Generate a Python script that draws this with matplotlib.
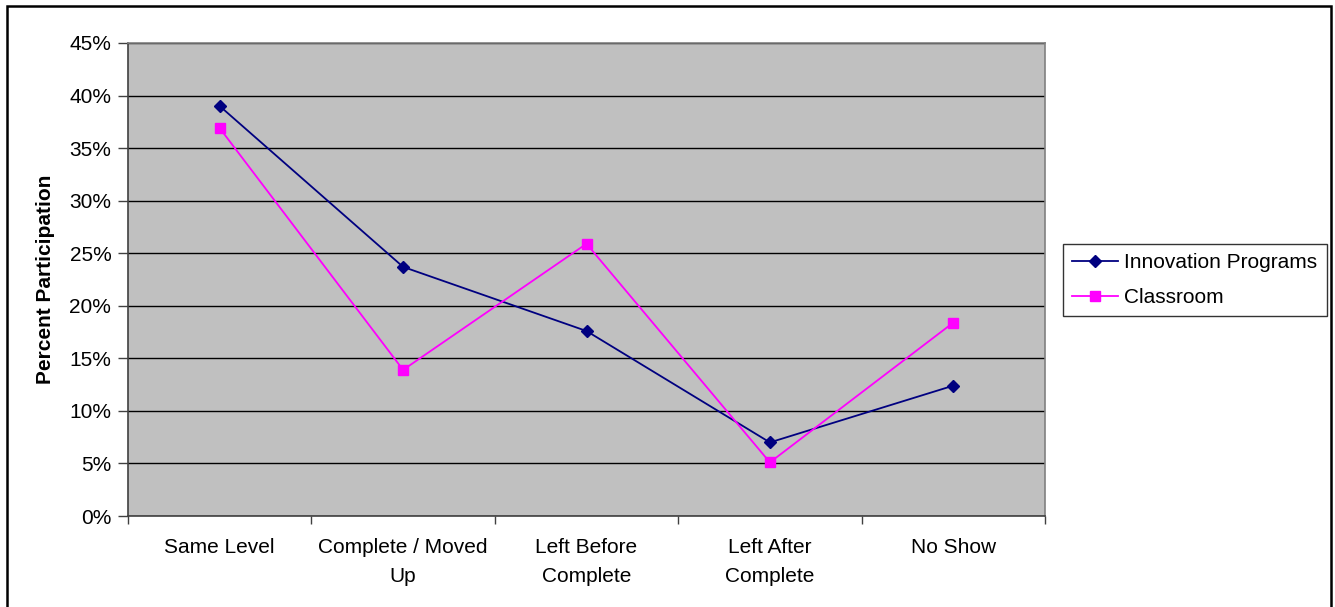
import matplotlib
matplotlib.use("Agg")
import matplotlib.pyplot as plt
from matplotlib.patches import Rectangle
from matplotlib.ticker import FixedLocator, FuncFormatter

categories = ["Same Level", "Complete / Moved\nUp", "Left Before\nComplete",
              "Left After\nComplete", "No Show"]
innovation = [39.0, 23.7, 17.6, 7.0, 12.4]
classroom = [36.9, 13.9, 25.9, 5.1, 18.4]
y_ticks = [0, 5, 10, 15, 20, 25, 30, 35, 40, 45]

plt.rcParams["font.family"] = ["Liberation Sans", "DejaVu Sans"]

fig = plt.figure(figsize=(13.35, 6.07), dpi=100)
fig.patch.set_facecolor("white")
ax = fig.add_axes([128 / 1335, 1 - 516 / 607, (1045 - 128) / 1335, (516 - 43) / 607])
ax.set_facecolor("#C0C0C0")

x = list(range(len(categories)))
ax.plot(x, innovation, color="#000080", marker="D", markersize=6, linewidth=1.3,
        label="Innovation Programs", zorder=3)
ax.plot(x, classroom, color="#FF00FF", marker="s", markersize=7, linewidth=1.3,
        label="Classroom", zorder=3)

ax.set_xlim(-0.5, len(categories) - 0.5)
ax.set_ylim(0, 45)
ax.set_yticks(y_ticks)
ax.yaxis.set_major_formatter(FuncFormatter(lambda v, p: f"{v:.0f}%"))
ax.yaxis.grid(True, color="black", linewidth=1.0)
ax.set_axisbelow(True)

# boundaries between categories carry the tick marks, centres carry the labels
ax.xaxis.set_major_locator(FixedLocator([i - 0.5 for i in range(len(categories) + 1)]))
ax.xaxis.set_major_formatter(FuncFormatter(lambda v, p: ""))
ax.xaxis.set_minor_locator(FixedLocator(x))
ax.set_xticklabels(categories, minor=True, linespacing=1.65)
ax.tick_params(axis="x", which="minor", length=0, pad=16, labelsize=15)
ax.tick_params(axis="x", which="major", length=6, width=1, color="#404040", direction="out")
ax.tick_params(axis="y", length=7, width=1, color="#404040", direction="out", pad=5, labelsize=15)

for side in ("top", "right"):
    ax.spines[side].set_color("#808080")
    ax.spines[side].set_linewidth(1.2)
for side in ("left", "bottom"):
    ax.spines[side].set_color("#404040")
    ax.spines[side].set_linewidth(1.2)

ax.set_ylabel("Percent Participation", fontsize=15, fontweight="bold", labelpad=10)

leg = fig.legend(loc="upper left", bbox_to_anchor=(1063 / 1335, 1 - 244 / 607),
                 frameon=True, fancybox=False, edgecolor="black", fontsize=15,
                 handlelength=2.2, borderpad=0.45, labelspacing=0.75, handletextpad=0.3,
                 borderaxespad=0)
leg.get_frame().set_linewidth(1.0)

# chart-area frame; its lower edge sits below the canvas
fig.add_artist(Rectangle((7 / 1335, -10 / 607), (1331 - 7) / 1335, (601 + 10) / 607,
                         transform=fig.transFigure, fill=False, edgecolor="black",
                         linewidth=1.8))

fig.savefig("out.png", dpi=100)
